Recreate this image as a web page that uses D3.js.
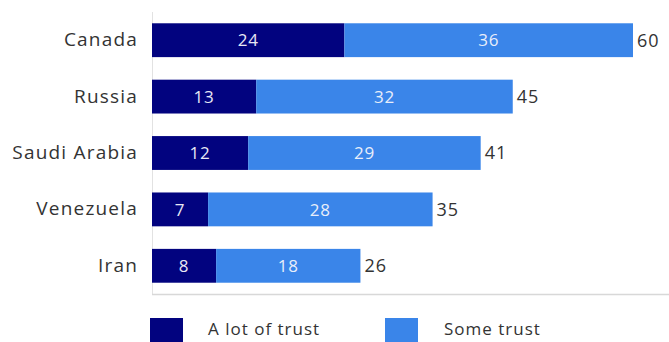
<!DOCTYPE html>
<html>
<head>
<meta charset="utf-8">
<script src="https://cdn.jsdelivr.net/npm/d3@7"></script>
<style>
  body { margin: 0; background: #fff; }
  svg text { font-family: "Open Sans", sans-serif; }
</style>
</head>
<body>
<svg id="chart" width="669" height="342"></svg>
<script>
// chart values
var countries = ["Canada", "Russia", "Saudi Arabia", "Venezuela", "Iran"];
var aLotOfTrust = [24, 13, 12, 7, 8];
var someTrust = [36, 32, 29, 28, 18];
var seriesNames = ["A lot of trust", "Some trust"];

var darkBlue = "#02037f";
var lightBlue = "#3a85e9";

var svg = d3.select("#chart");

var rows = countries.map(function(c, i) {
	return { name: c, a: aLotOfTrust[i], s: someTrust[i], total: aLotOfTrust[i] + someTrust[i] };
});

var x = d3.scaleLinear().domain([0, 60]).range([152, 633]);
var y = d3.scaleBand().domain(countries).range([12, 294]).paddingInner(0.4).paddingOuter(0.2);

// frame lines
svg.append("line")
	.attr("x1", 152.5).attr("x2", 152.5)
	.attr("y1", 12).attr("y2", 294)
	.attr("stroke", "#e2e2e2").attr("stroke-width", 1);
svg.append("line")
	.attr("x1", 152).attr("x2", 669)
	.attr("y1", 294.5).attr("y2", 294.5)
	.attr("stroke", "#d8d8d8").attr("stroke-width", 1.5);

// category axis
var yAxis = svg.append("g")
	.attr("transform", "translate(152,0)")
	.call(d3.axisLeft(y).tickSize(0).tickPadding(14));
yAxis.select(".domain").remove();
yAxis.selectAll("text")
	.attr("font-family", "'Open Sans', sans-serif")
	.attr("font-size", 19)
	.attr("letter-spacing", 1.2)
	.attr("fill", "#333");

var bars = svg.append("g").selectAll("g")
	.data(rows)
	.enter()
	.append("g");

bars.append("rect")
	.attr("x", function(d) { return x(0); })
	.attr("y", function(d) { return y(d.name); })
	.attr("width", function(d) { return x(d.a) - x(0); })
	.attr("height", y.bandwidth())
	.attr("fill", darkBlue);

bars.append("rect")
	.attr("x", function(d) { return x(d.a); })
	.attr("y", function(d) { return y(d.name); })
	.attr("width", function(d) { return x(d.a + d.s) - x(d.a); })
	.attr("height", y.bandwidth())
	.attr("fill", lightBlue);

// value labels inside segments
bars.append("text")
	.attr("x", function(d) { return (x(0) + x(d.a)) / 2; })
	.attr("y", function(d) { return y(d.name) + y.bandwidth() / 2; })
	.attr("dy", "0.36em")
	.attr("text-anchor", "middle")
	.attr("font-size", 17)
	.attr("letter-spacing", 0.8)
	.attr("fill", "#e8e8f4")
	.text(function(d) { return d.a; });

bars.append("text")
	.attr("x", function(d) { return (x(d.a) + x(d.a + d.s)) / 2; })
	.attr("y", function(d) { return y(d.name) + y.bandwidth() / 2; })
	.attr("dy", "0.36em")
	.attr("text-anchor", "middle")
	.attr("font-size", 17)
	.attr("letter-spacing", 0.8)
	.attr("fill", "#e8eefa")
	.text(function(d) { return d.s; });

// totals
bars.append("text")
	.attr("x", function(d) { return x(d.total) + 4; })
	.attr("y", function(d) { return y(d.name) + y.bandwidth() / 2; })
	.attr("dy", "0.36em")
	.attr("font-size", 18)
	.attr("letter-spacing", 1)
	.attr("fill", "#333")
	.text(function(d) { return d.total; });

// legend
var legendX = [150, 385];
var legend = svg.append("g").selectAll("g")
	.data(seriesNames)
	.enter()
	.append("g")
	.attr("transform", function(d, i) { return "translate(" + legendX[i] + ",318)"; });

legend.append("rect")
	.attr("width", 33).attr("height", 26)
	.attr("fill", function(d, i) { return i == 0 ? darkBlue : lightBlue; });

legend.append("text")
	.attr("x", function(d, i) { return i == 0 ? 58 : 59; })
	.attr("y", 11)
	.attr("dy", "0.36em")
	.attr("font-size", 17)
	.attr("letter-spacing", 1)
	.attr("fill", "#333")
	.text(function(d) { return d; });
</script>
</body>
</html>
